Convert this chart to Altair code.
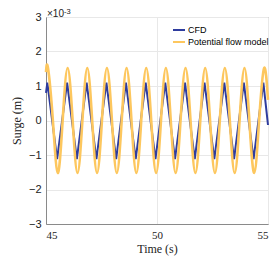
import altair as alt
import pandas as pd

# CFD surge (x 1e-3 m): start, peaks/troughs, end
cfd_t = [45.00, 45.06, 45.50, 45.95, 46.39, 46.83, 47.27, 47.72, 48.16, 48.60,
         49.04, 49.49, 49.93, 50.37, 50.81, 51.26, 51.70, 52.14, 52.58, 53.03,
         53.47, 53.91, 54.35, 54.79, 55.00]
cfd_v = [0.80, 1.10, -1.12, 1.10, -1.12, 1.10, -1.12, 1.10, -1.12, 1.10,
         -1.12, 1.10, -1.12, 1.10, -1.12, 1.10, -1.12, 1.10, -1.12, 1.10,
         -1.12, 1.10, -1.12, 1.10, -0.13]

# Potential flow model surge (x 1e-3 m): peaks, zero crossings, troughs
pot_t = [45.00, 45.09, 45.31, 45.53, 45.75, 45.975, 46.20, 46.42, 46.64, 46.86,
         47.08, 47.30, 47.52, 47.745, 47.97, 48.19, 48.41, 48.63, 48.85, 49.07,
         49.29, 49.515, 49.74, 49.96, 50.18, 50.40, 50.62, 50.84, 51.06, 51.285,
         51.51, 51.73, 51.95, 52.17, 52.39, 52.61, 52.83, 53.055, 53.28, 53.50,
         53.72, 53.94, 54.16, 54.38, 54.60, 54.825, 55.00]
pot_v = [1.40, 1.52, 0.0, -1.52, 0.0, 1.52, 0.0, -1.52, 0.0, 1.52,
         0.0, -1.52, 0.0, 1.52, 0.0, -1.52, 0.0, 1.52, 0.0, -1.52,
         0.0, 1.52, 0.0, -1.52, 0.0, 1.52, 0.0, -1.52, 0.0, 1.52,
         0.0, -1.52, 0.0, 1.52, 0.0, -1.52, 0.0, 1.52, 0.0, -1.52,
         0.0, 1.52, 0.0, -1.52, 0.0, 1.52, 0.60]

series = ["CFD", "Potential flow model"]
colors = ["#2E3C9E", "#FDC75E"]
x_ticks = [45, 50, 55]
y_ticks = [-3, -2, -1, 0, 1, 2, 3]

cfd = pd.DataFrame({"t": cfd_t, "v": cfd_v, "s": series[0]})
pot = pd.DataFrame({"t": pot_t, "v": pot_v, "s": series[1]})

xenc = alt.X("t:Q", scale=alt.Scale(domain=[45, 55], nice=False),
             axis=alt.Axis(values=x_ticks, title="Time (s)", format="d"))
yenc = alt.Y("v:Q", scale=alt.Scale(domain=[-3, 3], nice=False),
             axis=alt.Axis(values=y_ticks, title="Surge (m)", format="d"))
cenc = alt.Color("s:N", scale=alt.Scale(domain=series, range=colors),
                 legend=alt.Legend(title=None, orient="none", legendX=126, legendY=6,
                                   padding=0, symbolType="stroke", symbolSize=144,
                                   symbolStrokeWidth=2, labelFont="Liberation Sans",
                                   labelFontSize=9, labelColor="#000",
                                   labelOffset=2, rowPadding=0, labelLimit=200))

blue = alt.Chart(cfd).mark_line(strokeWidth=2, interpolate="linear").encode(x=xenc, y=yenc, color=cenc)
yellow = alt.Chart(pot).mark_line(strokeWidth=2.6, interpolate="natural").encode(x=xenc, y=yenc, color=cenc)

exp_base = alt.Chart(pd.DataFrame({"a": [0]})).mark_text(
    text="×10", align="left", baseline="middle", font="Liberation Sans",
    fontSize=10, color="#222").encode(x=alt.value(1), y=alt.value(-3))
exp_sup = alt.Chart(pd.DataFrame({"a": [0]})).mark_text(
    text="-3", align="left", baseline="middle", font="Liberation Sans",
    fontSize=7.5, color="#222").encode(x=alt.value(18), y=alt.value(-5.5))

chart = alt.layer(blue, yellow, exp_base, exp_sup).properties(
    width=222, height=207,
    autosize=alt.AutoSizeParams(type="none"),
    padding={"left": 38, "top": 9, "right": 2, "bottom": 40},
).configure_view(stroke="#8a8a8a", strokeWidth=1).configure_axis(
    grid=True, gridColor="#e8e8e8", gridWidth=1,
    domainColor="#8a8a8a", tickColor="#8a8a8a", tickSize=0,
    labelColor="#222", titleColor="#222", titleFontWeight="normal",
).configure_axisX(
    labelFont="Liberation Serif", labelFontSize=11, labelPadding=5,
    titleFont="Liberation Serif", titleFontSize=12, titlePadding=3,
).configure_axisY(
    labelFont="Liberation Sans", labelFontSize=11, labelPadding=5,
    titleFont="Liberation Serif", titleFontSize=12, titlePadding=5,
)

chart.save("out.html", embed_options={"renderer": "svg", "actions": False})
